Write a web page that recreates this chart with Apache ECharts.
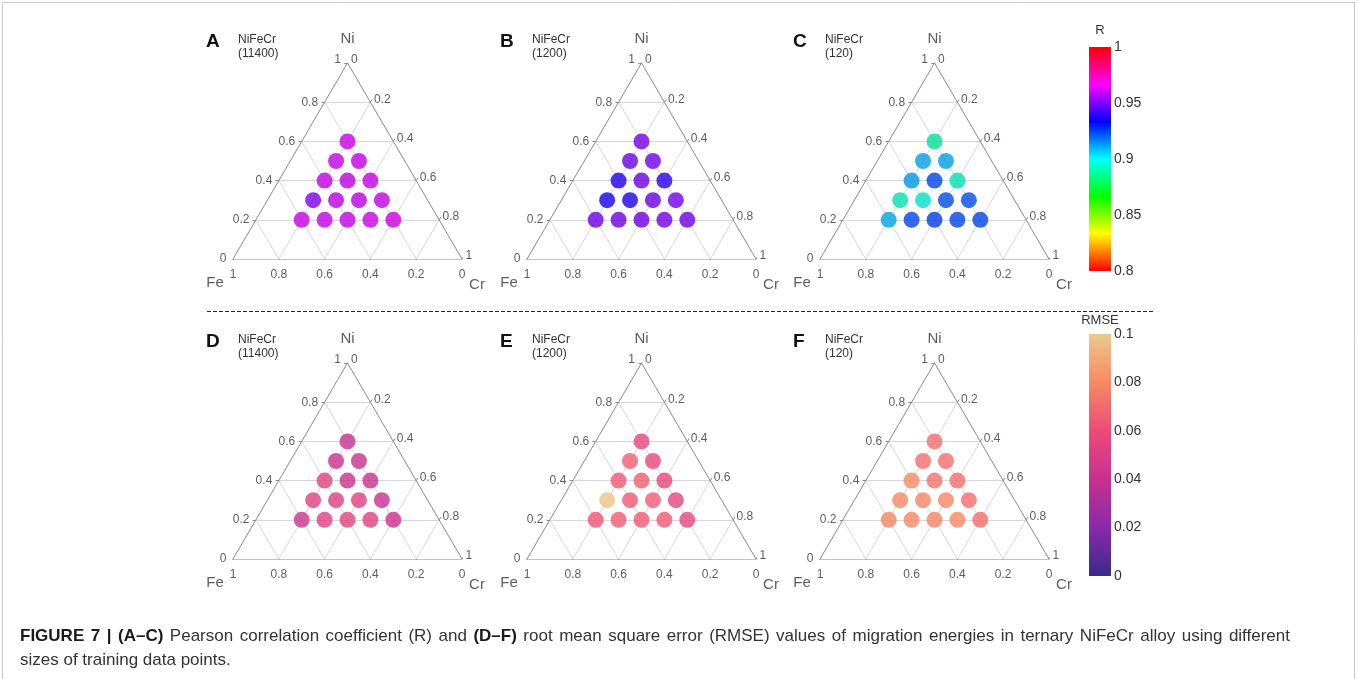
<!DOCTYPE html>
<html><head><meta charset="utf-8">
<script src="https://cdn.jsdelivr.net/npm/echarts@6/dist/echarts.min.js"></script>
<style>html,body{margin:0;padding:0;background:#fff}#c{width:1358px;height:679px}</style>
</head><body><div id="c"></div>
<script>
// ---- data ----
// compositions (fractions): Ni and Cr; Fe = 1 - Ni - Cr
const niFrac = [0.6, 0.5, 0.5, 0.4, 0.4, 0.4, 0.3, 0.3, 0.3, 0.3, 0.2, 0.2, 0.2, 0.2, 0.2];
const crFrac = [0.2, 0.2, 0.3, 0.2, 0.3, 0.4, 0.2, 0.3, 0.4, 0.5, 0.2, 0.3, 0.4, 0.5, 0.6];
// Pearson R (A: 11400, B: 1200, C: 120)
const rA = [0.964, 0.963, 0.963, 0.963, 0.962, 0.964, 0.953, 0.962, 0.962, 0.963, 0.964, 0.963, 0.963, 0.964, 0.965];
const rB = [0.951, 0.950, 0.951, 0.938, 0.950, 0.939, 0.937, 0.938, 0.950, 0.951, 0.950, 0.950, 0.950, 0.951, 0.950];
const rC = [0.889, 0.910, 0.910, 0.911, 0.923, 0.893, 0.892, 0.897, 0.922, 0.922, 0.909, 0.923, 0.924, 0.923, 0.923];
// RMSE (D: 11400, E: 1200, F: 120)
const rmseD = [0.039, 0.040, 0.040, 0.053, 0.040, 0.041, 0.052, 0.051, 0.051, 0.040, 0.042, 0.052, 0.053, 0.052, 0.040];
const rmseE = [0.056, 0.066, 0.056, 0.064, 0.066, 0.057, 0.098, 0.064, 0.065, 0.055, 0.063, 0.065, 0.065, 0.065, 0.056];
const rmseF = [0.071, 0.071, 0.071, 0.080, 0.072, 0.071, 0.079, 0.078, 0.079, 0.071, 0.079, 0.078, 0.078, 0.079, 0.070];
const ternTicks = [0, 0.2, 0.4, 0.6, 0.8, 1];
const tickText = ['0', '0.2', '0.4', '0.6', '0.8', '1'];
const rTicks = ['0.8', '0.85', '0.9', '0.95', '1'];
const rmseTicks = ['0', '0.02', '0.04', '0.06', '0.08', '0.1'];
const panelLetters = ['A', 'B', 'C', 'D', 'E', 'F'];
const panelSizes = ['(11400)', '(1200)', '(120)', '(11400)', '(1200)', '(120)'];
const panelValues = [rA, rB, rC, rmseD, rmseE, rmseF];
const elementNames = ['Ni', 'Fe', 'Cr'];
const captionParts = [
  {t: 'FIGURE 7 | (A–C)', b: true},
  {t: 'Pearson correlation coefficient (R) and', b: false},
  {t: '(D–F)', b: true},
  {t: 'root mean square error (RMSE) values of migration energies in ternary NiFeCr alloy using different', b: false}
];
const captionLine2 = 'sizes of training data points.';

// ---- layout ----
const FONT = '"Liberation Sans", Arial, sans-serif';
const W = 229, H = 196;
const panelPos = [[233, 63], [527, 63], [820, 63], [233, 363], [527, 363], [820, 363]];
const hsvBar = ['#ff0000', '#ffff00', '#00ff00', '#00ffff', '#0000ff', '#ff00ff', '#ff0000'];
const hsvDot = ['#e00000', '#e0e000', '#00e000', '#00e0e0', '#0000e8', '#d800e0', '#e00000'];
const rmseMap = ['#3a2a8a', '#8a2aaa', '#c8308f', '#ee4a78', '#f68a62', '#ebc98e'];

function tern(ni, cr) { return [cr + ni / 2, ni]; }

const grid = [], xAxis = [], yAxis = [], series = [], graphic = [];
const rSeries = [], rmseSeries = [];

panelPos.forEach((p, i) => {
  grid.push({left: p[0], top: p[1], width: W, height: H});
  xAxis.push({gridIndex: i, type: 'value', min: 0, max: 1, show: false});
  yAxis.push({gridIndex: i, type: 'value', min: 0, max: 1, show: false});
  const gl = [];
  [0.2, 0.4, 0.6, 0.8].forEach(k => {
    gl.push({coords: [tern(k, 0), tern(k, 1 - k)]});
    gl.push({coords: [tern(0, k), tern(1 - k, k)]});
    gl.push({coords: [tern(0, 1 - k), tern(1 - k, 0)]});
  });
  series.push({type: 'lines', coordinateSystem: 'cartesian2d', xAxisIndex: i, yAxisIndex: i, silent: true,
    lineStyle: {color: '#d6d6d6', width: 1, opacity: 1}, data: gl, z: 1});
  const ed = [
    {coords: [tern(0, 0), tern(0, 1)]},
    {coords: [tern(0, 1), tern(1, 0)]},
    {coords: [tern(1, 0), tern(0, 0)]}
  ];
  ternTicks.forEach(k => {
    const a = tern(k, 0); ed.push({coords: [[a[0] - 0.014, a[1]], a]});
    const b = tern(1 - k, k); ed.push({coords: [b, [b[0] + 0.008, b[1] + 0.014]]});
    const c = tern(0, 1 - k); ed.push({coords: [c, [c[0] + 0.006, c[1] - 0.02]]});
  });
  series.push({type: 'lines', coordinateSystem: 'cartesian2d', xAxisIndex: i, yAxisIndex: i, silent: true,
    lineStyle: {color: '#888', width: 1, opacity: 1}, data: ed, z: 2});
  const lab = [];
  const ts = {fontFamily: FONT, fontSize: 12, color: '#333'};
  ternTicks.forEach((k, j) => {
    lab.push({value: tern(k, 0), label: Object.assign({formatter: tickText[j], position: 'left', distance: 6, offset: [0, k === 1 ? -3 : 0]}, ts)});
    lab.push({value: tern(1 - k, k), label: Object.assign({formatter: tickText[j], position: 'right', distance: 3, offset: [0, -3]}, ts)});
    lab.push({value: tern(0, 1 - k), label: Object.assign({formatter: tickText[j], position: 'bottom', distance: 9}, ts)});
  });
  const ns = {fontFamily: FONT, fontSize: 15, color: '#333'};
  lab.push({value: tern(1, 0), label: Object.assign({formatter: elementNames[0], position: 'top', distance: 16}, ns)});
  lab.push({value: tern(0, 0), label: Object.assign({formatter: elementNames[1], position: 'inside', offset: [-18, 24]}, ns)});
  lab.push({value: tern(0, 1), label: Object.assign({formatter: elementNames[2], position: 'inside', offset: [15, 26]}, ns)});
  series.push({type: 'scatter', xAxisIndex: i, yAxisIndex: i, silent: true, symbolSize: 1,
    itemStyle: {color: 'rgba(0,0,0,0)'}, label: {show: true}, data: lab, z: 3});
  const pts = niFrac.map((ni, j) => tern(ni, crFrac[j]).concat([panelValues[i][j]]));
  (i < 3 ? rSeries : rmseSeries).push(series.length);
  series.push({type: 'scatter', xAxisIndex: i, yAxisIndex: i, silent: true, symbol: 'circle', symbolSize: 16,
    data: pts, z: 5});
  graphic.push({type: 'text', x: p[0] - 27, y: p[1] - 31, style: {text: panelLetters[i], font: 'bold 19px ' + FONT, fill: '#111'}});
  graphic.push({type: 'text', x: p[0] + 5, y: p[1] - 30, style: {text: 'NiFeCr\n' + panelSizes[i], font: '12px ' + FONT, fill: '#333', lineHeight: 14}});
});

// colorbars
const cbDefs = [
  {top: 47, height: 224, min: 0.8, max: 1, interval: 0.05, ticks: rTicks, colors: hsvBar, title: 'R', titleY: 24},
  {top: 334, height: 242, min: 0, max: 0.1, interval: 0.02, ticks: rmseTicks, colors: rmseMap, title: 'RMSE', titleY: 314}
];
cbDefs.forEach((cb, k) => {
  const gi = 6 + k;
  grid.push({left: 1089, top: cb.top, width: 22, height: cb.height});
  xAxis.push({gridIndex: gi, type: 'value', min: 0, max: 1, show: false});
  yAxis.push({gridIndex: gi, type: 'value', min: cb.min, max: cb.max, interval: cb.interval, position: 'right',
    axisLine: {show: false}, axisTick: {show: false}, splitLine: {show: false},
    axisLabel: {margin: 3, fontFamily: FONT, fontSize: 14, color: '#333',
      formatter: v => cb.ticks[Math.round((v - cb.min) / cb.interval)]}});
  const stops = cb.colors.map((c, j) => ({offset: j / (cb.colors.length - 1), color: c}));
  series.push({type: 'custom', xAxisIndex: gi, yAxisIndex: gi, silent: true, data: [[0, cb.min]],
    renderItem: (params) => {
      const cs = params.coordSys;
      return {type: 'rect', shape: {x: cs.x, y: cs.y, width: cs.width, height: cs.height},
        style: {fill: new echarts.graphic.LinearGradient(0, 1, 0, 0, stops)}};
    }});
  graphic.push({type: 'text', x: 1100, y: cb.titleY, style: {text: cb.title, font: '13px ' + FONT, fill: '#333', textAlign: 'center'}});
});

// dashed separator, border and caption
graphic.push({type: 'line', shape: {x1: 207, y1: 311.5, x2: 1155, y2: 311.5}, style: {stroke: '#222', lineWidth: 1, lineDash: [4, 2]}});
graphic.push({type: 'rect', shape: {x: 2.5, y: 2.5, width: 1352, height: 690}, style: {fill: 'none', stroke: '#c8c8c8', lineWidth: 1}});

// justified first caption line
const mctx = document.createElement('canvas').getContext('2d');
const capWords = [];
captionParts.forEach(part => part.t.split(' ').forEach(w => capWords.push({w, b: part.b})));
const capFont = b => (b ? 'bold ' : '') + '17px "Liberation Sans", Arial, sans-serif';
let total = 0;
capWords.forEach(cw => { mctx.font = capFont(cw.b); cw.width = mctx.measureText(cw.w).width; total += cw.width; });
const gap = Math.max(4, (1290 - 20 - total) / (capWords.length - 1));
let cx = 20;
capWords.forEach(cw => {
  graphic.push({type: 'text', x: cx, y: 628, style: {text: cw.w, font: capFont(cw.b), fill: cw.b ? '#1a1a1a' : '#333'}});
  cx += cw.width + gap;
});
graphic.push({type: 'text', x: 20, y: 652, style: {text: captionLine2, font: capFont(false), fill: '#333'}});

const chart = echarts.init(document.getElementById('c'), null, {renderer: 'canvas'});
chart.setOption({
  animation: false,
  backgroundColor: '#fff',
  grid, xAxis, yAxis, series, graphic,
  visualMap: [
    {type: 'continuous', show: false, min: 0.8, max: 1, dimension: 2, seriesIndex: rSeries, inRange: {color: hsvDot}},
    {type: 'continuous', show: false, min: 0, max: 0.1, dimension: 2, seriesIndex: rmseSeries, inRange: {color: rmseMap}}
  ]
});
</script></body></html>
